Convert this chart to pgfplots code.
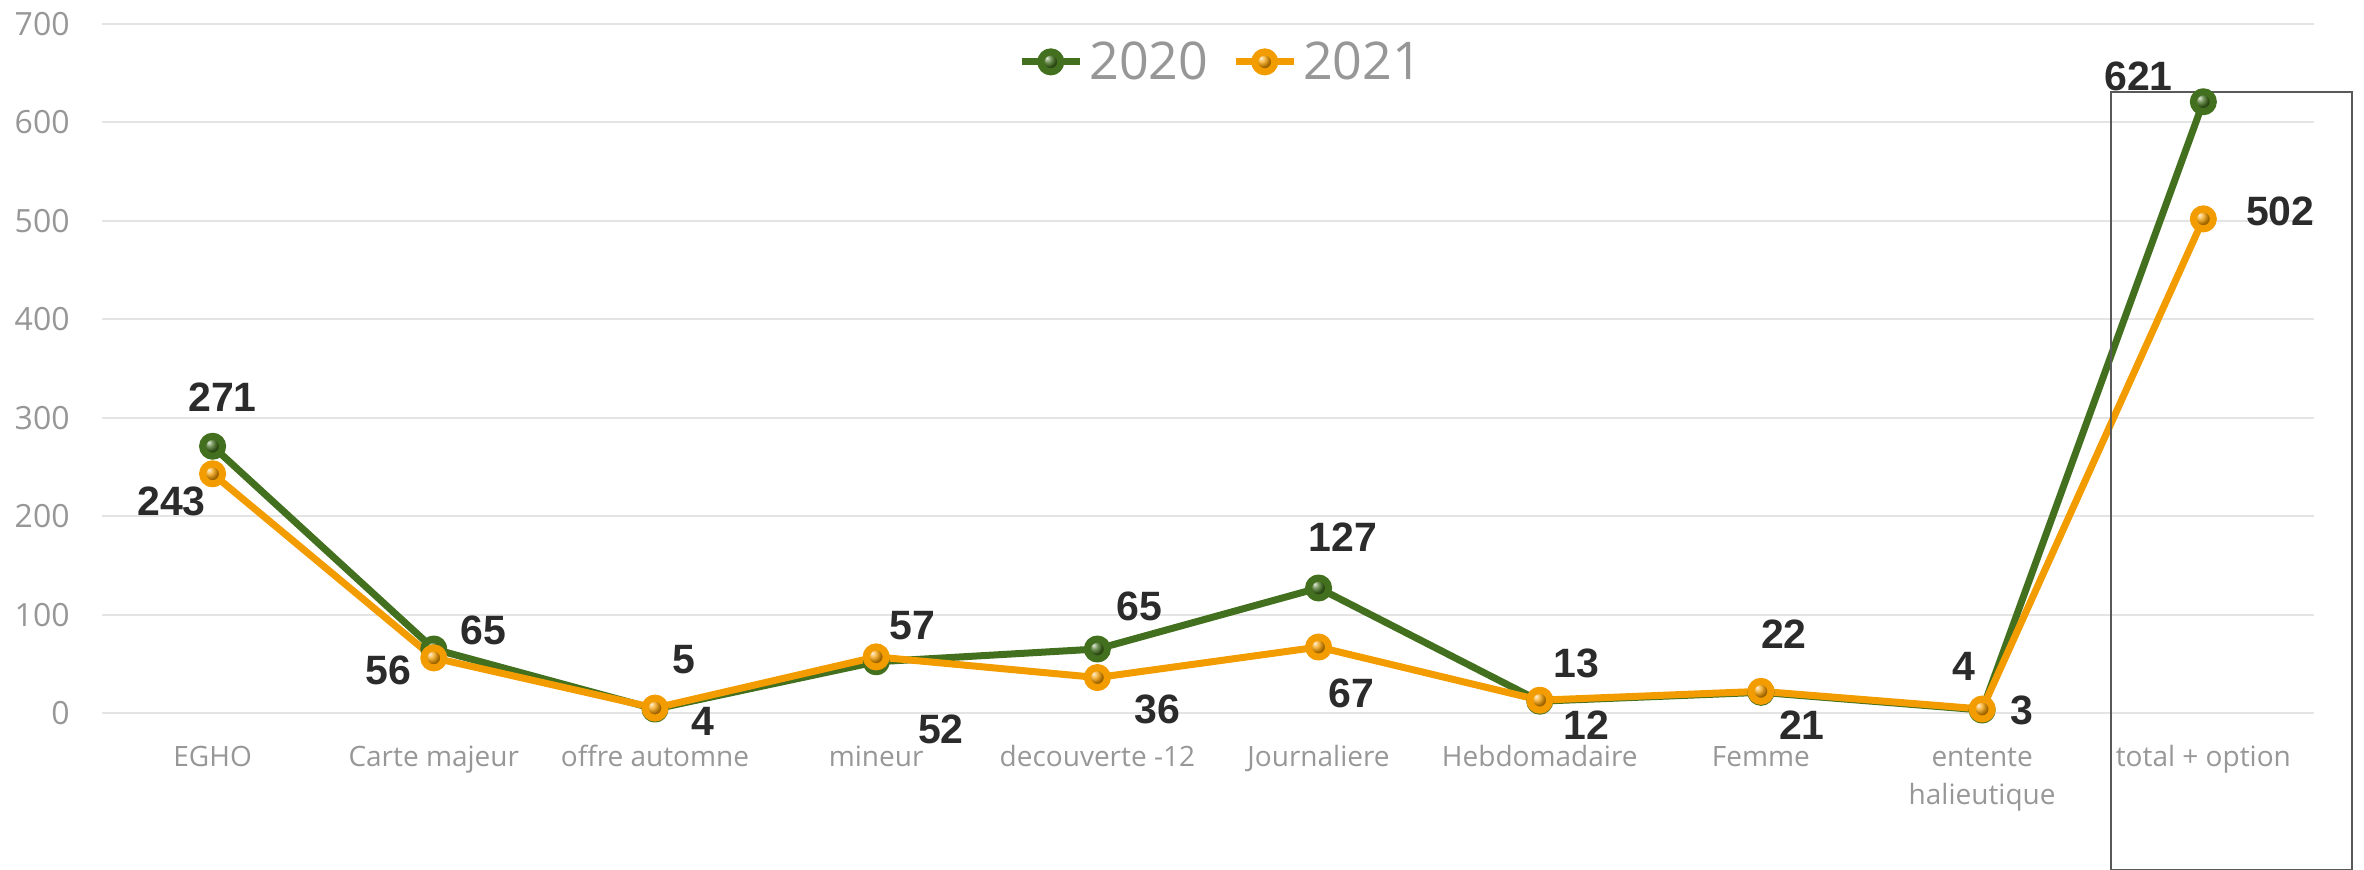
\documentclass[border=0pt]{standalone}
\usepackage{pgfplots}
\pgfplotsset{compat=1.18}
\usepackage{pgfplotstable}
\usepackage{fontspec}
\setmainfont{Open Sans}
\newfontfamily\labfont{Liberation Sans}

\definecolor{g20}{HTML}{43701F}
\definecolor{o21}{HTML}{F39C00}
\definecolor{tickgray}{HTML}{979797}
\definecolor{gridgray}{HTML}{E4E4E4}
\definecolor{labcol}{HTML}{2B2B2B}
\definecolor{rectgray}{HTML}{595959}

\pgfplotstableread{
x y dx dy
0 271 5 24.5
1 65 25 9.5
2 4 24.1 -6
3 52 32.4 -34
4 65 21.1 21.1
5 127 12.1 25.6
6 12 23.5 -12
7 21 20.5 -16.3
8 3 20 0
9 621 -32.4 12.8
}\dataA
\pgfplotstableread{
x y dx dy
0 243 -20.5 -14
1 56 -22.5 -6.5
2 5 14.3 24.1
3 57 18.1 15.8
4 36 30.2 -15.8
5 67 16.6 -23
6 13 18.4 18.5
7 22 11.5 28.8
8 4 -9 21.5
9 502 38.5 3.8
}\dataB

\begin{document}
\begin{tikzpicture}
\path[use as bounding box] (-51pt,-78.5pt) rectangle (1131pt,356.5pt);
\begin{axis}[
  at={(0,0)}, anchor=south west,
  scale only axis, width=1106pt, height=344.5pt,
  xmin=-0.5, xmax=9.5, ymin=0, ymax=700,
  clip=false,
  axis line style={draw=none},
  tick style={draw=none},
  ytick={0,100,...,700},
  xtick={0,...,9},
  xticklabels={EGHO, Carte majeur, offre automne, mineur, decouverte -12, Journaliere, Hebdomadaire, Femme, {\begin{tabular}[t]{@{}c@{}}entente\\halieutique\end{tabular}}, total + option},
  ymajorgrids,
  grid style={line width=1pt, color=gridgray},
  /pgf/number format/assume math mode=true,
  yticklabel style={font=\fontsize{16}{19}\selectfont, text=tickgray, anchor=east, inner sep=0pt, xshift=-16pt},
  xticklabel style={font=\fontsize{14}{18.7}\selectfont, text=tickgray, anchor=base, inner sep=0pt, yshift=-27pt},
  legend columns=2,
  legend style={at={(0.506,0.945)}, anchor=center, draw=none, fill=none,
    font=\fontsize{26}{30}\selectfont, text=tickgray,
    column sep=2pt,
    /tikz/every even column/.append style={column sep=11pt},
    nodes={inner sep=1pt}},
  legend image code/.code={%
    \draw[mark repeat=2,mark phase=2,#1] plot coordinates {(0pt,0pt) (14.5pt,0pt) (29pt,0pt)};},
  nodes near coords,
  visualization depends on={\thisrow{dx}\as\dx},
  visualization depends on={\thisrow{dy}\as\dy},
  every node near coord/.append style={anchor=center, xshift=\dx pt, yshift=\dy pt,
    font=\labfont\bfseries\fontsize{20.5}{24}\selectfont, text=labcol},
]
\addplot[color=g20, line width=3.5pt, line join=round, mark=ball, mark size=5pt, mark options={ball color=g20}] table[x=x,y=y] {\dataA};
\addlegendentry{2020}
\addplot[color=o21, line width=3.5pt, line join=round, mark=ball, mark size=5pt, mark options={ball color=o21}] table[x=x,y=y] {\dataB};
\addlegendentry{2021}
\draw[color=rectgray, line width=0.8pt] (axis cs:8.582,-159.5) rectangle (axis cs:9.672,630.9);
\end{axis}
\end{tikzpicture}
\end{document}
